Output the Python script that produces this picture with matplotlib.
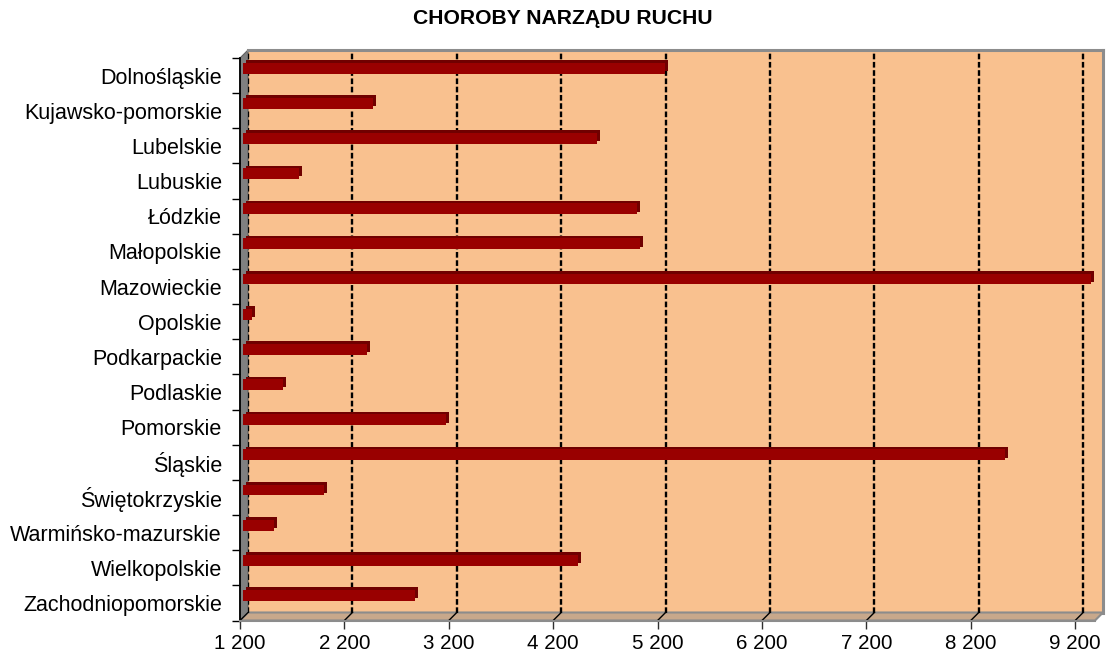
import matplotlib
matplotlib.use("Agg")
import matplotlib.pyplot as plt
from matplotlib import transforms
from matplotlib.patches import Polygon
from matplotlib.lines import Line2D

categories = ["Dolnośląskie", "Kujawsko-pomorskie", "Lubelskie", "Lubuskie", "Łódzkie",
              "Małopolskie", "Mazowieckie", "Opolskie", "Podkarpackie", "Podlaskie",
              "Pomorskie", "Śląskie", "Świętokrzyskie", "Warmińsko-mazurskie",
              "Wielkopolskie", "Zachodniopomorskie"]
values = [5246, 2449, 4591, 1737, 4978, 5006, 9321, 1283, 2392, 1587,
          3146, 8496, 1977, 1497, 4405, 2849]
x_ticks = [1200, 2200, 3200, 4200, 5200, 6200, 7200, 8200, 9200]
x_tick_labels = [f"{v:,}".replace(",", " ") for v in x_ticks]
x_min, x_max = 1200, 9390
title = "CHOROBY NARZĄDU RUCHU"

plt.rcParams['font.family'] = ['Liberation Sans', 'DejaVu Sans']

W, H = 1107, 660
fig = plt.figure(figsize=(W / 100, H / 100), dpi=100)


def fx(x):
    return x / W


def fy(y):
    return 1 - y / H


BX0, BX1, BY0, BY1 = 248, 1103, 50, 612.5
D = 8
n = len(categories)

# back wall
ax = fig.add_axes([fx(BX0), fy(BY1), (BX1 - BX0) / W, (BY1 - BY0) / H])
ax.set_facecolor('#F9C18F')
ax.set_xlim(x_min, x_max)
ax.set_ylim(n - 0.5, -0.5)
ax.set_xticks(x_ticks)
ax.set_yticks([])
ax.tick_params(axis='x', length=0, labelbottom=False)
ax.grid(axis='x', color='black', linestyle=(0, (2.4, 1.1)), linewidth=1.7)
ax.set_axisbelow(True)
for s in ['left', 'bottom']:
    ax.spines[s].set_visible(False)
for s in ['top', 'right']:
    ax.spines[s].set_color('#8c8c8c')
    ax.spines[s].set_linewidth(2.2)

# left wall and floor
ftr = fig.transFigure
left_wall = Polygon([(fx(BX0 - D), fy(BY0 + D)), (fx(BX0), fy(BY0)), (fx(BX0), fy(BY1)),
                     (fx(BX0 - D), fy(BY1 + D))], closed=True, transform=ftr,
                    facecolor='#808080', edgecolor='#606060', lw=0.8, clip_on=False, zorder=0.5)
ax.add_patch(left_wall)
floor = Polygon([(fx(BX0), fy(BY1)), (fx(BX1), fy(BY1)), (fx(BX1 - D), fy(BY1 + D)),
                 (fx(BX0 - D), fy(BY1 + D))], closed=True, transform=ftr,
                facecolor='#C8A88B', edgecolor='#8c8c8c', lw=1.5, clip_on=False, zorder=0.5)
ax.add_patch(floor)

# floor part of gridlines
for v in x_ticks:
    pb = ax.transData.transform((v, n - 0.5))
    ln = Line2D([pb[0] / W, (pb[0] - D) / W], [pb[1] / H, (pb[1] - D) / H],
                transform=ftr, color='black', lw=1.0, clip_on=False, zorder=0.8)
    ax.add_line(ln)

# bars (pseudo 3D)
off_front = transforms.ScaledTranslation(-5 / 100, -0.5 / 100, fig.dpi_scale_trans)
off_back = transforms.ScaledTranslation(-2 / 100, 2.0 / 100, fig.dpi_scale_trans)
widths = [v - x_min for v in values]
ypos = list(range(n))
h = 0.31
ax.barh(ypos, widths, left=x_min, height=h, color='#700000', linewidth=0,
        transform=ax.transData + off_back, clip_on=False, zorder=3)
ax.barh(ypos, widths, left=x_min, height=h, color='#990000', linewidth=0,
        transform=ax.transData + off_front, clip_on=False, zorder=4)

# front axis
axf = fig.add_axes([fx(BX0 - D), fy(BY1 + D), (BX1 - BX0) / W, (BY1 - BY0) / H])
axf.patch.set_visible(False)
axf.set_xlim(x_min, x_max)
axf.set_ylim(n - 0.5, -0.5)
axf.set_xticks(x_ticks)
axf.set_xticklabels(x_tick_labels)
axf.set_yticks(ypos)
axf.set_yticklabels(categories)
axf.set_yticks([i - 0.5 for i in range(n + 1)], minor=True)
axf.tick_params(axis='y', which='major', length=0, pad=13, labelsize=15.5)
axf.tick_params(axis='y', which='minor', length=6, width=1, direction='out', color='black')
axf.tick_params(axis='x', which='major', length=6, width=1, direction='out',
                color='#303030', labelsize=14.8, pad=4)
axf.tick_params(axis='x', which='minor', length=0)
for s in ['top', 'right']:
    axf.spines[s].set_visible(False)
axf.spines['left'].set_color('black')
axf.spines['left'].set_linewidth(1.3)
axf.spines['bottom'].set_color('#8c8c8c')
axf.spines['bottom'].set_linewidth(1.5)

fig.text(fx(563), fy(19), title, ha='center', va='center', fontsize=15.2, fontweight='bold')

fig.savefig("out.png", dpi=100)
